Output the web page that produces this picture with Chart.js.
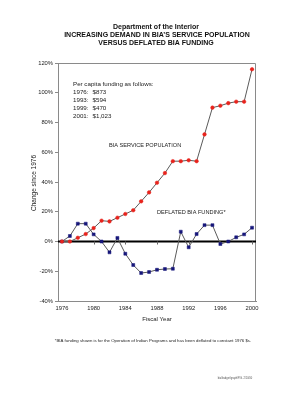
<!DOCTYPE html>
<html>
<head>
<meta charset="utf-8">
<script src="https://cdn.jsdelivr.net/npm/chart.js@4.4.1/dist/chart.umd.min.js"></script>
<style>
  html, body { margin: 0; padding: 0; background: #fff; }
  #wrap { width: 306px; height: 400px; position: relative; }
</style>
</head>
<body>
<div id="wrap"><canvas id="bia-chart"></canvas></div>
<script>
// Fiscal years on the x axis
const years = [
  '1976', '1977', '1978', '1979', '1980', '1981', '1982', '1983', '1984',
  '1985', '1986', '1987', '1988', '1989', '1990', '1991', '1992', '1993',
  '1994', '1995', '1996', '1997', '1998', '1999', '2000'
];
const yearTicks = ['1976', '1980', '1984', '1988', '1992', '1996', '2000'];

// % change since 1976
const servicePopulation = [
  0, 0, 2.5, 5, 9, 14, 13.5, 16, 18.5, 21, 27, 33, 39.5, 46, 54,
  54, 54.6, 54, 72, 90, 91.3, 93, 94, 94, 115.8
];
const deflatedFunding = [
  0, 3.7, 12, 12, 4.8, 0, -7.3, 2.4, -8.2, -15.8, -21.2, -20.5, -19, -18.5,
  -18.3, 6.6, -3.9, 5, 11, 11, -1.7, 0, 2.8, 4.8, 9.3
];

const titleLines = [
  'Department of the Interior',
  'INCREASING DEMAND IN BIA\u2019S SERVICE POPULATION',
  'VERSUS DEFLATED BIA FUNDING'
];
const perCapitaHeader = 'Per capita funding as follows:';
const perCapitaYears = ['1976:', '1993:', '1999:', '2001:'];
const perCapitaAmounts = ['$873', '$594', '$470', '$1,023'];
const footnote = '*BIA funding shown is for the Operation of Indian Programs and has been deflated to constant 1976 $s.';
const fileNote = 'bia\\budget\\graph\\P.G. 2/10/00';

const FONT = '"Liberation Sans", Arial, sans-serif';

// Draws the box, zero line and all the free text round the plot
const decorPlugin = {
  id: 'decor',
  beforeDatasetsDraw: (chart) => {
    const ctx = chart.ctx;
    const area = chart.chartArea;
    const x = chart.scales.x;
    const y = chart.scales.y;
    ctx.save();

    // grey box top + right
    ctx.strokeStyle = '#8a8a8a';
    ctx.lineWidth = 1;
    ctx.beginPath();
    ctx.moveTo(area.left, area.top + 0.5);
    ctx.lineTo(area.right - 0.5, area.top + 0.5);
    ctx.lineTo(area.right - 0.5, area.bottom);
    ctx.stroke();

    // heavy zero line
    const y0 = y.getPixelForValue(0);
    ctx.strokeStyle = '#000';
    ctx.lineWidth = 2;
    ctx.beginPath();
    ctx.moveTo(area.left, y0);
    ctx.lineTo(area.right, y0);
    ctx.stroke();

    // tick marks hanging off the zero line
    ctx.strokeStyle = '#666';
    ctx.lineWidth = 1;
    yearTicks.slice(1).forEach(t => {
      const px = Math.round(x.getPixelForValue(years.indexOf(t))) + 0.5;
      ctx.beginPath();
      ctx.moveTo(px, y0);
      ctx.lineTo(px, y0 + 3);
      ctx.stroke();
    });
    ctx.restore();
  },
  afterDraw: (chart) => {
    const ctx = chart.ctx;
    ctx.save();
    ctx.textBaseline = 'middle';

    // title block
    ctx.fillStyle = '#111';
    ctx.textAlign = 'center';
    ctx.font = 'bold 7px ' + FONT;
    ctx.fillText(titleLines[0], 156, 27);
    ctx.fillText(titleLines[1], 157, 35);
    ctx.fillText(titleLines[2], 156, 43);

    // per capita note
    ctx.textAlign = 'left';
    ctx.fillStyle = '#222';
    ctx.font = '6.2px ' + FONT;
    ctx.fillText(perCapitaHeader, 73, 84);
    perCapitaYears.forEach((yr, i) => {
      ctx.fillText(yr, 73, 92.3 + i * 8.1);
      ctx.fillText(perCapitaAmounts[i], 92.5, 92.3 + i * 8.1);
    });

    // series labels
    ctx.font = '5.6px ' + FONT;
    ctx.fillText('BIA SERVICE POPULATION', 109, 145);
    ctx.fillText('DEFLATED BIA FUNDING*', 157, 212);

    // axis titles
    ctx.textAlign = 'center';
    ctx.font = '6px ' + FONT;
    ctx.fillText('Fiscal Year', 157, 319);
    ctx.save();
    ctx.translate(34, 183);
    ctx.rotate(-Math.PI / 2);
    ctx.font = '6.5px ' + FONT;
    ctx.fillText('Change since 1976', 0, 0);
    ctx.restore();

    // footnotes
    ctx.font = '4.3px ' + FONT;
    ctx.fillText(footnote, 153, 341);
    ctx.fillStyle = '#555';
    ctx.font = '2.6px ' + FONT;
    ctx.fillText(fileNote, 235, 378);
    ctx.restore();
  }
};

new Chart(document.getElementById('bia-chart'), {
  type: 'line',
  data: {
    labels: years,
    datasets: [
      {
        label: 'BIA Service Population',
        data: servicePopulation,
        borderColor: '#5a5a5a',
        borderWidth: 1,
        pointStyle: 'circle',
        pointRadius: 1.8,
        pointBackgroundColor: '#e8231c',
        pointBorderColor: '#e8231c',
        pointBorderWidth: 0.5,
        tension: 0
      },
      {
        label: 'Deflated BIA Funding',
        data: deflatedFunding,
        borderColor: '#5a5a5a',
        borderWidth: 1,
        pointStyle: 'rect',
        pointRadius: 2.1,
        pointBackgroundColor: '#16167a',
        pointBorderColor: '#16167a',
        pointBorderWidth: 0.5,
        tension: 0
      }
    ]
  },
  options: {
    responsive: true,
    maintainAspectRatio: false,
    animation: false,
    layout: { padding: { left: 0, right: 50, top: 63, bottom: 0 } },
    plugins: {
      legend: { display: false },
      tooltip: { enabled: false },
      title: { display: false }
    },
    scales: {
      x: {
        type: 'category',
        offset: true,
        afterFit: (scale) => { scale.height = 99; },
        grid: { display: false, drawTicks: false, offset: false },
        border: { display: true, color: '#8a8a8a', width: 1 },
        ticks: {
          autoSkip: false,
          maxRotation: 0,
          padding: 4,
          color: '#222',
          font: { family: FONT, size: 5.8 },
          callback: function(value) {
            const lbl = this.getLabelForValue(value);
            return yearTicks.includes(lbl) ? lbl : '';
          }
        }
      },
      y: {
        min: -40,
        max: 120,
        afterFit: (scale) => { scale.width = 58; },
        grid: {
          drawOnChartArea: false,
          drawTicks: true,
          tickLength: 3,
          color: '#8a8a8a'
        },
        border: { display: true, color: '#8a8a8a', width: 1 },
        ticks: {
          stepSize: 20,
          padding: 2,
          color: '#222',
          font: { family: FONT, size: 5.8 },
          callback: (v) => v + '%'
        }
      }
    }
  },
  plugins: [decorPlugin]
});
</script>
</body>
</html>
